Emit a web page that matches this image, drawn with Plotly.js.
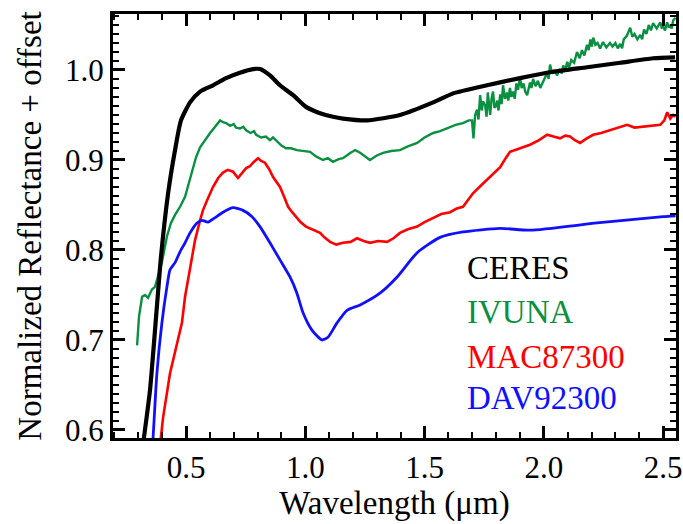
<!DOCTYPE html>
<html>
<head>
<meta charset="utf-8">
<script src="https://cdn.plot.ly/plotly-3.0.1.min.js"></script>
</head>
<body style="margin:0;background:#fff">
<div id="plotdiv" style="width:683px;height:524px"></div>
<script>
// CERES (black)
var ceresX = [0.318,0.324,0.349,0.378,0.395,0.425,0.454,0.479,0.517,0.559,0.613,0.668,0.726,0.781,0.810,0.852,0.894,0.949,1.003,1.062,1.116,1.158,1.259,1.397,1.536,1.620,1.762,1.900,2.039,2.181,2.320,2.458,2.550];
var ceresY = [0.580,0.592,0.644,0.737,0.792,0.863,0.911,0.944,0.964,0.976,0.983,0.991,0.997,1.001,1.001,0.994,0.983,0.972,0.959,0.952,0.948,0.946,0.944,0.950,0.964,0.974,0.983,0.991,0.998,1.003,1.008,1.013,1.014];

// IVUNA (green)
var ivunaX = [0.295,0.303,0.316,0.328,0.341,0.357,0.370,0.383,0.399,0.420,0.437,0.454,0.475,0.496,0.517,0.542,0.559,0.584,0.601,0.622,0.643,0.655,0.668,0.685,0.700,0.710,0.726,0.740,0.752,0.770,0.785,0.794,0.815,0.835,0.852,0.865,0.877,0.900,0.919,0.940,0.965,0.990,1.020,1.045,1.074,1.095,1.116,1.140,1.158,1.190,1.209,1.230,1.260,1.271,1.300,1.326,1.360,1.397,1.430,1.469,1.500,1.536,1.565,1.607,1.630,1.661,1.685,1.699,1.705,1.712,1.720,1.726,1.733,1.740,1.745,1.754,1.760,1.765,1.770,1.775,1.781,1.787,1.793,1.800,1.804,1.810,1.817,1.823,1.829,1.837,1.845,1.851,1.858,1.864,1.871,1.878,1.885,1.892,1.900,1.907,1.915,1.922,1.930,1.936,1.942,1.948,1.955,1.965,1.975,1.985,1.997,2.005,2.014,2.020,2.026,2.035,2.045,2.055,2.068,2.075,2.081,2.090,2.098,2.106,2.115,2.127,2.139,2.150,2.160,2.170,2.181,2.188,2.195,2.201,2.207,2.216,2.225,2.236,2.248,2.262,2.277,2.288,2.300,2.310,2.320,2.328,2.335,2.348,2.362,2.371,2.380,2.392,2.404,2.412,2.420,2.430,2.440,2.449,2.458,2.473,2.488,2.494,2.500,2.508,2.517,2.524,2.530,2.536,2.542,2.552];
var ivunaY = [0.694,0.726,0.748,0.750,0.747,0.756,0.759,0.770,0.786,0.815,0.830,0.839,0.848,0.859,0.878,0.903,0.914,0.924,0.930,0.937,0.944,0.942,0.941,0.938,0.940,0.936,0.935,0.937,0.933,0.930,0.932,0.928,0.925,0.926,0.922,0.925,0.922,0.916,0.913,0.913,0.911,0.910,0.909,0.904,0.900,0.902,0.898,0.901,0.902,0.908,0.911,0.908,0.902,0.900,0.905,0.908,0.910,0.911,0.915,0.919,0.925,0.930,0.932,0.936,0.939,0.941,0.944,0.944,0.924,0.950,0.956,0.945,0.972,0.955,0.965,0.961,0.948,0.975,0.958,0.950,0.968,0.976,0.958,0.960,0.966,0.955,0.973,0.962,0.983,0.968,0.975,0.966,0.980,0.970,0.976,0.968,0.985,0.978,0.992,0.980,0.985,0.976,0.972,0.980,0.986,0.980,0.990,0.982,0.988,0.980,0.987,0.992,0.997,0.990,1.006,0.996,1.000,0.994,1.001,0.996,1.005,1.000,1.009,1.003,1.011,1.008,1.020,1.013,1.022,1.016,1.028,1.022,1.034,1.026,1.036,1.028,1.030,1.024,1.031,1.025,1.030,1.026,1.030,1.024,1.029,1.024,1.034,1.038,1.047,1.037,1.040,1.034,1.039,1.034,1.045,1.040,1.050,1.044,1.052,1.046,1.053,1.047,1.048,1.044,1.053,1.047,1.050,1.046,1.055,1.058];

// MAC87300 (red)
var macX = [0.390,0.395,0.404,0.433,0.462,0.483,0.496,0.517,0.538,0.559,0.571,0.588,0.613,0.635,0.655,0.675,0.697,0.718,0.735,0.752,0.768,0.781,0.802,0.815,0.831,0.848,0.865,0.880,0.894,0.910,0.928,0.945,0.961,0.980,1.003,1.030,1.062,1.080,1.104,1.130,1.158,1.190,1.217,1.245,1.271,1.305,1.343,1.370,1.397,1.430,1.469,1.500,1.536,1.570,1.607,1.635,1.661,1.680,1.703,1.730,1.762,1.790,1.817,1.840,1.858,1.880,1.900,1.920,1.942,1.980,2.014,2.040,2.068,2.090,2.110,2.130,2.152,2.180,2.207,2.240,2.277,2.310,2.349,2.380,2.416,2.450,2.488,2.505,2.517,2.530,2.542,2.552];
var macY = [0.580,0.592,0.614,0.663,0.697,0.719,0.748,0.781,0.811,0.833,0.844,0.855,0.870,0.880,0.886,0.889,0.887,0.880,0.886,0.891,0.893,0.897,0.902,0.899,0.897,0.890,0.881,0.876,0.870,0.860,0.848,0.842,0.837,0.831,0.826,0.823,0.819,0.814,0.809,0.806,0.808,0.809,0.813,0.810,0.808,0.810,0.809,0.813,0.819,0.823,0.826,0.831,0.836,0.840,0.842,0.846,0.848,0.855,0.863,0.870,0.878,0.885,0.892,0.902,0.909,0.911,0.913,0.915,0.917,0.922,0.928,0.926,0.924,0.927,0.926,0.922,0.919,0.924,0.928,0.930,0.933,0.936,0.939,0.936,0.937,0.938,0.939,0.944,0.953,0.946,0.950,0.948];

// DAV92300 (blue)
var davX = [0.358,0.362,0.378,0.399,0.420,0.433,0.454,0.475,0.496,0.517,0.546,0.567,0.592,0.622,0.655,0.697,0.739,0.777,0.810,0.852,0.894,0.936,0.965,0.991,1.028,1.070,1.095,1.133,1.175,1.230,1.313,1.385,1.469,1.565,1.661,1.817,1.942,2.223,2.500,2.552];
var davY = [0.580,0.592,0.663,0.719,0.759,0.778,0.786,0.798,0.808,0.819,0.830,0.833,0.831,0.836,0.842,0.847,0.844,0.837,0.826,0.808,0.789,0.770,0.752,0.730,0.711,0.700,0.703,0.719,0.733,0.739,0.752,0.770,0.797,0.814,0.820,0.824,0.822,0.830,0.837,0.838];

var legendNames = ['CERES','IVUNA','MAC87300','DAV92300'];
var legendColors = ['#000000','#0a9040','#ff0000','#1010ff'];
var legendY = [0.780,0.731,0.681,0.636];
var legendX = 1.67;

var xTicks = [0.5,1.0,1.5,2.0,2.5];
var yTicks = [0.6,0.7,0.8,0.9,1.0];

var SERIF = 'Liberation Serif';
var XR = [0.194,2.554];
var YR = [0.5911,1.0622];

var traces = [
  {x: ivunaX, y: ivunaY, mode:'lines', line:{color:legendColors[1], width:2.4}},
  {x: macX, y: macY, mode:'lines', line:{color:legendColors[2], width:2.6}},
  {x: davX, y: davY, mode:'lines', line:{color:legendColors[3], width:2.8, shape:'spline', smoothing:0.6}},
  {x: ceresX, y: ceresY, mode:'lines', line:{color:legendColors[0], width:4.2, shape:'spline', smoothing:0.6}},
  {x: [1.0], y: [2.0], xaxis:'x2', yaxis:'y2', mode:'markers', marker:{size:1, opacity:0}}
];

var annotations = legendNames.map(function(n,i){return {
  x: legendX, y: legendY[i], xref:'x', yref:'y', text:n, showarrow:false,
  xanchor:'left', yanchor:'middle', font:{family:SERIF, size:33, color:legendColors[i]}
};});

function tickAxis(extra){
  var base = {
    ticks:'inside', ticklen:12, tickwidth:2.5, tickcolor:'#000',
    showline:true, linewidth:3, linecolor:'#000',
    showgrid:false, zeroline:false
  };
  for (var k in extra) base[k] = extra[k];
  return base;
}

var layout = {
  width:683, height:524,
  margin:{l:113, r:7, t:14, b:86},
  paper_bgcolor:'#fff', plot_bgcolor:'#fff',
  showlegend:false,
  font:{family:SERIF, color:'#000'},
  xaxis: tickAxis({
    range:XR, tickvals:xTicks, tickformat:'.1f',
    tickfont:{family:SERIF, size:31, color:'#000'},
    minor:{dtick:0.1, tick0:0, ticks:'inside', ticklen:6, tickwidth:2, tickcolor:'#000', showgrid:false},
    title:{text:'Wavelength (μm)', font:{family:SERIF, size:33, color:'#000'}, standoff:6}
  }),
  yaxis: tickAxis({
    range:YR, tickvals:yTicks, tickformat:'.1f',
    tickfont:{family:SERIF, size:31, color:'#000'},
    minor:{dtick:0.01, tick0:0, ticks:'inside', ticklen:6, tickwidth:2, tickcolor:'#000', showgrid:false},
    title:{text:'Normalized Reflectance + offset', font:{family:SERIF, size:33, color:'#000'}, standoff:14}
  }),
  xaxis2: tickAxis({
    range:XR, overlaying:'x', side:'top', anchor:'y2', tickvals:xTicks, showticklabels:false,
    minor:{dtick:0.1, tick0:0, ticks:'inside', ticklen:6, tickwidth:2, tickcolor:'#000', showgrid:false}
  }),
  yaxis2: tickAxis({
    range:YR, overlaying:'y', side:'right', anchor:'x2', tickvals:yTicks, showticklabels:false,
    minor:{dtick:0.01, tick0:0, ticks:'inside', ticklen:6, tickwidth:2, tickcolor:'#000', showgrid:false}
  }),
  annotations: annotations
};

Plotly.newPlot('plotdiv', traces, layout, {displayModeBar:false});
</script>
</body>
</html>
